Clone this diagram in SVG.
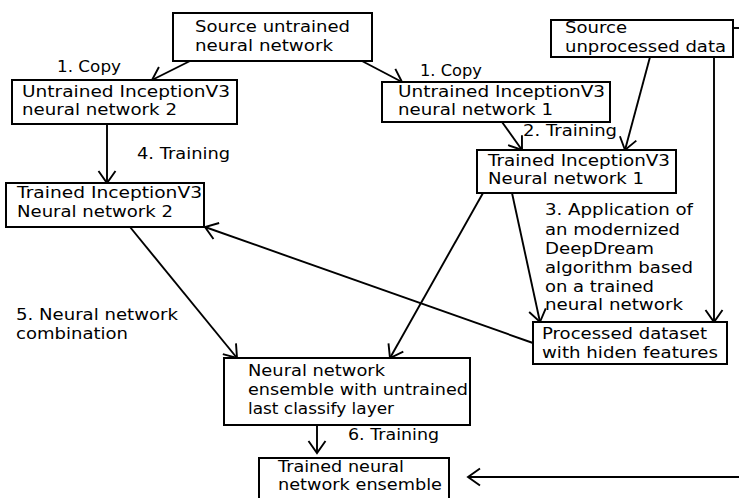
<svg xmlns="http://www.w3.org/2000/svg" width="739" height="498" viewBox="0 0 739 498">
<style>
.box{fill:#fff;stroke:#000;stroke-width:2}
.t{font-family:"DejaVu Sans","Liberation Sans",sans-serif;font-size:16.5px;fill:#000}
.c{stroke:#000;stroke-width:1.9;fill:none;marker-end:url(#arr)}
.s{stroke:#000;stroke-width:1.9;fill:none}
</style>
<defs>
<marker id="arr" markerUnits="userSpaceOnUse" markerWidth="30" markerHeight="30" viewBox="-15 -15 30 30" refX="0" refY="0" orient="auto">
<path d="M-12,-8.5 L0,0 L-12,8.5" fill="none" stroke="#000" stroke-width="1.9"/>
</marker>
</defs>
<rect width="739" height="498" fill="#fff"/>
<g id="connectors">
<line class="c" x1="190" y1="61" x2="152" y2="80"/>
<line class="c" x1="362" y1="61" x2="402" y2="82"/>
<line class="c" x1="107" y1="124" x2="107" y2="183"/>
<line class="c" x1="502" y1="122" x2="522" y2="150"/>
<line class="c" x1="650" y1="57" x2="625" y2="150"/>
<line class="c" x1="714" y1="57" x2="714" y2="322"/>
<line class="s" x1="733" y1="28" x2="739" y2="28"/>
<line class="c" x1="483" y1="193" x2="390" y2="358"/>
<line class="c" x1="512" y1="193" x2="540" y2="322"/>
<line class="c" x1="533" y1="343" x2="205" y2="227"/>
<line class="c" x1="130" y1="227" x2="237" y2="358"/>
<line class="c" x1="317" y1="425" x2="317" y2="453"/>
<line class="c" x1="739" y1="477" x2="468" y2="477"/>
<text class="t" x="57" y="72" textLength="64" lengthAdjust="spacingAndGlyphs">1. Copy</text>
<text class="t" x="420" y="76" textLength="62" lengthAdjust="spacingAndGlyphs">1. Copy</text>
<text class="t" x="523" y="136" textLength="94" lengthAdjust="spacingAndGlyphs">2. Training</text>
<text class="t" x="137" y="159" textLength="93" lengthAdjust="spacingAndGlyphs">4. Training</text>
<text class="t" x="545" y="215" textLength="148" lengthAdjust="spacingAndGlyphs">3. Application of</text>
<text class="t" x="545" y="235" textLength="135" lengthAdjust="spacingAndGlyphs">an modernized</text>
<text class="t" x="545" y="254" textLength="109" lengthAdjust="spacingAndGlyphs">DeepDream</text>
<text class="t" x="545" y="273" textLength="148" lengthAdjust="spacingAndGlyphs">algorithm based</text>
<text class="t" x="545" y="292" textLength="109" lengthAdjust="spacingAndGlyphs">on a trained</text>
<text class="t" x="545" y="310" textLength="138" lengthAdjust="spacingAndGlyphs">neural network</text>
<text class="t" x="16" y="320" textLength="162" lengthAdjust="spacingAndGlyphs">5. Neural network</text>
<text class="t" x="16" y="339" textLength="112" lengthAdjust="spacingAndGlyphs">combination</text>
<text class="t" x="348" y="440" textLength="91" lengthAdjust="spacingAndGlyphs">6. Training</text>
</g>
<g id="source-untrained">
<rect class="box" x="173" y="13" width="199" height="48"/>
<text class="t" x="195" y="32" textLength="155" lengthAdjust="spacingAndGlyphs">Source untrained</text>
<text class="t" x="195" y="51" textLength="138" lengthAdjust="spacingAndGlyphs">neural network</text>
</g>
<g id="untrained-2">
<rect class="box" x="12" y="80" width="225" height="44"/>
<text class="t" x="22" y="97" textLength="208" lengthAdjust="spacingAndGlyphs">Untrained InceptionV3</text>
<text class="t" x="22" y="115" textLength="155" lengthAdjust="spacingAndGlyphs">neural network 2</text>
</g>
<g id="untrained-1">
<rect class="box" x="382" y="82" width="228" height="40"/>
<text class="t" x="398" y="97" textLength="207" lengthAdjust="spacingAndGlyphs">Untrained InceptionV3</text>
<text class="t" x="398" y="115" textLength="155" lengthAdjust="spacingAndGlyphs">neural network 1</text>
</g>
<g id="source-data">
<rect class="box" x="551" y="20" width="182" height="37"/>
<text class="t" x="565" y="33" textLength="62" lengthAdjust="spacingAndGlyphs">Source</text>
<text class="t" x="565" y="52" textLength="161" lengthAdjust="spacingAndGlyphs">unprocessed data</text>
</g>
<g id="trained-1">
<rect class="box" x="477" y="150" width="199" height="43"/>
<text class="t" x="488" y="166" textLength="182" lengthAdjust="spacingAndGlyphs">Trained InceptionV3</text>
<text class="t" x="488" y="184" textLength="156" lengthAdjust="spacingAndGlyphs">Neural network 1</text>
</g>
<g id="trained-2">
<rect class="box" x="6" y="183" width="198" height="44"/>
<text class="t" x="17" y="198" textLength="185" lengthAdjust="spacingAndGlyphs">Trained InceptionV3</text>
<text class="t" x="17" y="217" textLength="156" lengthAdjust="spacingAndGlyphs">Neural network 2</text>
</g>
<g id="processed">
<rect class="box" x="533" y="322" width="194" height="42"/>
<text class="t" x="542" y="339" textLength="165" lengthAdjust="spacingAndGlyphs">Processed dataset</text>
<text class="t" x="542" y="358" textLength="176" lengthAdjust="spacingAndGlyphs">with hiden features</text>
</g>
<g id="ensemble">
<rect class="box" x="224" y="358" width="246" height="67"/>
<text class="t" x="248" y="376" textLength="137" lengthAdjust="spacingAndGlyphs">Neural network</text>
<text class="t" x="248" y="395" textLength="220" lengthAdjust="spacingAndGlyphs">ensemble with untrained</text>
<text class="t" x="248" y="414" textLength="146" lengthAdjust="spacingAndGlyphs">last classify layer</text>
</g>
<g id="trained-ensemble">
<rect class="box" x="259" y="458" width="190" height="60"/>
<text class="t" x="278" y="472" textLength="126" lengthAdjust="spacingAndGlyphs">Trained neural</text>
<text class="t" x="278" y="490" textLength="164" lengthAdjust="spacingAndGlyphs">network ensemble</text>
</g>
</svg>
